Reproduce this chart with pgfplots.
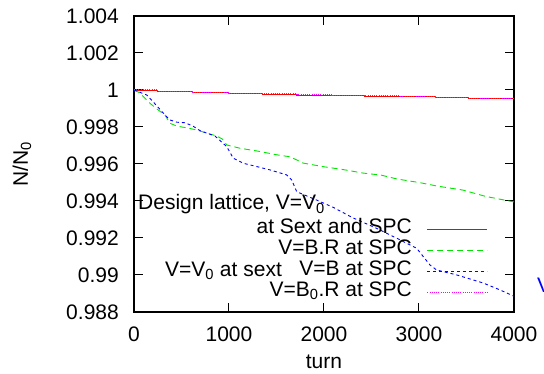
\documentclass[border=0pt]{standalone}
\usepackage{pgfplots}
\pgfplotsset{compat=1.18}
\usepackage{fontspec}
\setmainfont{Liberation Sans}

\definecolor{gpred}{RGB}{255,0,0}
\definecolor{gpgreen}{RGB}{0,230,0}
\definecolor{gpblue}{RGB}{0,0,255}
\definecolor{gpmagenta}{RGB}{255,0,255}

\begin{document}
\begin{tikzpicture}[font=\fontsize{21bp}{25bp}\selectfont]
\useasboundingbox (-134bp,-62bp) rectangle (410bp,312bp);
\begin{axis}[
  scale only axis, width=380bp, height=296bp,
  xmin=0, xmax=4000, ymin=0.988, ymax=1.004,
  axis line style={line width=1.2bp},
  every tick/.style={line width=1bp, black},
  major tick length=9bp, tick align=inside,
  xtick={0,1000,2000,3000,4000},
  xticklabels={0,1000,2000,3000,4000},
  ytick={0.988,0.990,0.992,0.994,0.996,0.998,1.000,1.002,1.004},
  yticklabels={0.988,0.99,0.992,0.994,0.996,0.998,1,1.002,1.004},
  scaled y ticks=false, scaled x ticks=false,
  xticklabel style={inner sep=0pt, anchor=north, yshift=-15bp},
  yticklabel style={inner sep=0pt, anchor=east, xshift=-15bp},
  xlabel={turn},
  xlabel style={at={(axis description cs:0.5,0)}, anchor=center, yshift=-50bp, inner sep=0pt},
  ylabel={N/N\textsubscript{0}},
  ylabel style={at={(axis description cs:-0.295,0.5)}, anchor=center, inner sep=0pt},
  legend cell align=right,
  legend plot pos=right,
  legend image code/.code={\draw[#1] (0bp,0bp) -- (60bp,0bp);},
  legend style={draw=none, fill=none, inner sep=0pt, column sep=15bp,
    nodes={inner sep=0pt, text height=15bp, text depth=6bp},
    at={(rel axis cs:0.9316,0.3166)}, anchor=north east},
]
% steady case: almost no loss
\addplot[gpred, line width=0.9bp, const plot] coordinates {
(0,1.00000) (250,0.99991) (620,0.99985) (990,0.99980) (1350,0.99977)
(1715,0.99973) (2080,0.99970) (2430,0.99967) (2800,0.99964)
(3170,0.99960) (3520,0.99953) (4000,0.99953)};
\addlegendentry{at Sext and SPC}

\addplot[gpgreen, line width=0.9bp, dash pattern=on 6bp off 4bp] coordinates {
(0,1.00000) (60,0.99985) (168,0.99928) (260,0.99890) (326,0.99865)
(379,0.99820) (450,0.99805) (560,0.99795) (660,0.99784) (780,0.99765)
(871,0.99751) (930,0.99735) (976,0.99703) (1116,0.99685) (1300,0.99670)
(1500,0.99650) (1642,0.99639) (1700,0.99625) (1779,0.99605) (2000,0.99585)
(2200,0.99570) (2411,0.99551) (2600,0.99540) (2768,0.99519) (3000,0.99500)
(3200,0.99480) (3463,0.99459) (3700,0.99425) (3989,0.99396) (4000,0.99395)};
\addlegendentry{V=B.R at SPC}

\addplot[draw=gpblue, line width=0.9bp, dash pattern=on 3bp off 3bp] coordinates {
(0,1.00000) (134,0.99973) (230,0.99920) (326,0.99865) (379,0.99838)
(450,0.99826) (537,0.99823) (620,0.99805) (695,0.99780) (853,0.99751)
(976,0.99694) (1045,0.99631) (1151,0.99604) (1300,0.99585) (1432,0.99568)
(1607,0.99541) (1660,0.99514) (1713,0.99450) (1923,0.99405) (2100,0.99365)
(2300,0.99310) (2555,0.99252) (2800,0.99190) (2976,0.99144) (3116,0.99054)
(3186,0.99027) (3400,0.99000) (3674,0.98957) (3850,0.98920) (4000,0.98885)};
\addlegendentry{V=B at SPC}

\addplot[gpmagenta, line width=0.9bp, dash pattern=on 1bp off 1.2bp, const plot] coordinates {
(0,1.00002) (250,0.99993) (620,0.99987) (990,0.99982) (1350,0.99979)
(1715,0.99975) (2080,0.99971) (2430,0.99969) (2800,0.99966)
(3170,0.99962) (3520,0.99955) (4000,0.99955)};
\addlegendentry{V=B\textsubscript{0}.R at SPC}

\node[anchor=base west, inner sep=0pt] at (rel axis cs:0.0105,0.3446)
  {Design lattice, V=V\textsubscript{0}};
\node[anchor=base west, inner sep=0pt] at (rel axis cs:0.0816,0.119)
  {V=V\textsubscript{0} at sext};
\end{axis}
\node[anchor=west, inner sep=0pt, text=gpblue] at (403bp,27bp) {V};
\end{tikzpicture}
\end{document}
